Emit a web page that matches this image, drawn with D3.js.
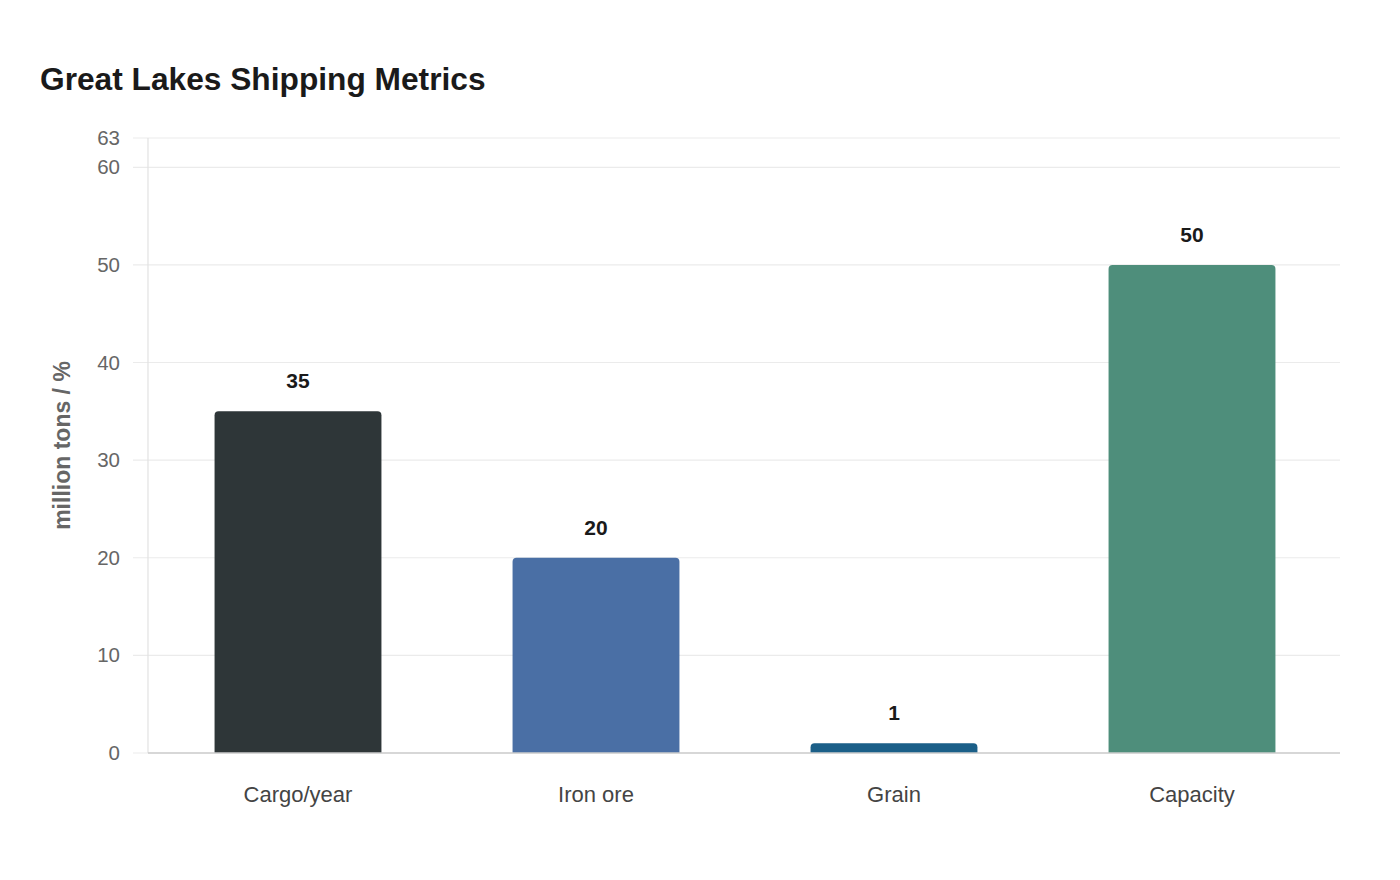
<!DOCTYPE html>
<html><head><meta charset="utf-8">
<script src="https://cdn.jsdelivr.net/npm/d3@7"></script>
<style>body{margin:0;background:#fff;font-family:"Liberation Sans",Arial,sans-serif;}</style>
</head><body><svg id="c" width="1400" height="880"></svg>
<script>
const categories = ["Cargo/year", "Iron ore", "Grain", "Capacity"];
const values = [35, 20, 1, 50];
const colors = ["#2e3638", "#4a6fa5", "#1b5f88", "#4e8e7b"];
const yTicks = [0, 10, 20, 30, 40, 50, 60, 63];
const yMax = 63;

const svg = d3.select("#c");
const m = {l:148, r:1340, t:138, b:753};
const x = d3.scaleBand().domain(categories).range([m.l + 1, m.r + 1]).paddingInner(0.44).paddingOuter(0.22);
const y = d3.scaleLinear().domain([0, yMax]).range([m.b, m.t]);

svg.append("text").attr("x", 40).attr("y", 90).text("Great Lakes Shipping Metrics")
  .attr("font-size", 31.7).attr("font-weight", "bold").attr("fill", "#1a1a1a");

// grid
svg.append("g").selectAll("line").data(yTicks).join("line")
  .attr("x1", m.l - 15).attr("x2", m.r).attr("y1", d => y(d)).attr("y2", d => y(d))
  .attr("stroke", "#ebebeb").attr("stroke-width", 1.2);
svg.append("line").attr("x1", m.l).attr("x2", m.l).attr("y1", m.t).attr("y2", m.b)
  .attr("stroke", "#e2e2e2").attr("stroke-width", 1.2);

const yAxis = svg.append("g").attr("transform", `translate(${m.l - 28},0)`)
  .call(d3.axisLeft(y).tickValues(yTicks).tickSize(0).tickPadding(0).tickFormat(d3.format("d")));
yAxis.select(".domain").remove();
yAxis.selectAll("text").attr("font-size", 20.5).attr("fill", "#666").attr("font-family", "Liberation Sans, Arial, sans-serif");

svg.append("text").attr("transform", `translate(70,${(m.t + m.b) / 2}) rotate(-90)`)
  .attr("text-anchor", "middle").text("million tons / %")
  .attr("font-size", 23).attr("font-weight", "bold").attr("fill", "#666");

// bars with rounded top
const r = 4;
function barPath(x0, w, yTop, yBase) {
  const rr = Math.min(r, (yBase - yTop));
  return `M${x0},${yBase}V${yTop + rr}Q${x0},${yTop} ${x0 + rr},${yTop}H${x0 + w - rr}Q${x0 + w},${yTop} ${x0 + w},${yTop + rr}V${yBase}Z`;
}
svg.append("g").selectAll("path").data(values).join("path")
  .attr("d", (d, i) => barPath(x(categories[i]), x.bandwidth(), y(d), y(0)))
  .attr("fill", (d, i) => colors[i]);

svg.append("line").attr("x1", m.l).attr("x2", m.r).attr("y1", m.b).attr("y2", m.b)
  .attr("stroke", "#cccccc").attr("stroke-width", 1.5);

svg.append("g").selectAll("text").data(values).join("text")
  .attr("x", (d, i) => x(categories[i]) + x.bandwidth() / 2)
  .attr("y", d => y(d) - 23).attr("text-anchor", "middle")
  .attr("font-size", 21).attr("font-weight", "bold").attr("fill", "#1a1a1a").text(d => d);

const xAxis = svg.append("g").attr("transform", `translate(0,${m.b})`)
  .call(d3.axisBottom(x).tickSize(0).tickPadding(0));
xAxis.select(".domain").remove();
xAxis.selectAll("text").attr("dy", 0).attr("y", 49).attr("font-size", 22).attr("fill", "#444")
  .attr("font-family", "Liberation Sans, Arial, sans-serif");
</script></body></html>
